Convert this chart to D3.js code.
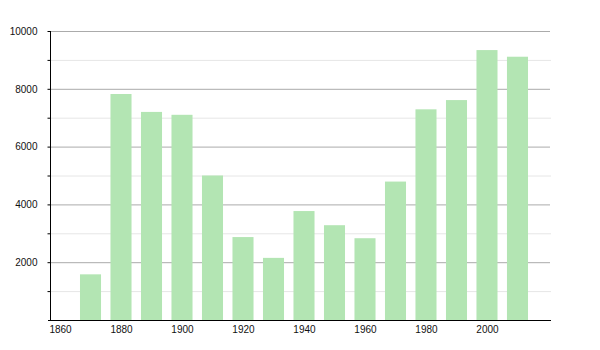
<!DOCTYPE html>
<html><head><meta charset="utf-8">
<script src="https://cdn.jsdelivr.net/npm/d3@7"></script>
<style>body{margin:0;background:#fff}svg text{font-family:"Liberation Sans",Arial,sans-serif;font-size:10px;fill:#111}</style>
</head><body><svg id="c" width="600" height="350"></svg>
<script>
const years = [1870,1880,1890,1900,1910,1920,1930,1940,1950,1960,1970,1980,1990,2000,2010];
const population = [1580,7820,7200,7100,5000,2870,2150,3770,3280,2830,4790,7290,7610,9340,9110];
const yTicks = [2000,4000,6000,8000,10000];
const yMinor = [1000,3000,5000,7000,9000];
const xTicks = [1860,1880,1900,1920,1940,1960,1980,2000];

const svg = d3.select("#c");
const x = d3.scaleLinear().domain([1856.72, 2020.66]).range([50, 550]);
const y = d3.scaleLinear().domain([0, 10000]).range([320, 31]);
const barHalf = 3.45;

// minor gridlines
svg.append("g").selectAll("line").data(yMinor).join("line")
  .attr("x1", 50).attr("x2", 551).attr("y1", d => y(d) + 0.5).attr("y2", d => y(d) + 0.5)
  .attr("stroke", "#e6e6e6");
// major gridlines
svg.append("g").selectAll("line").data(yTicks).join("line")
  .attr("x1", 50).attr("x2", 550).attr("y1", d => y(d) + 0.5).attr("y2", d => y(d) + 0.5)
  .attr("stroke", "#ababab");

// bars
svg.append("g").selectAll("rect").data(years).join("rect")
  .attr("x", d => x(d - barHalf)).attr("width", d => x(d + barHalf) - x(d - barHalf))
  .attr("y", (d, i) => y(population[i])).attr("height", (d, i) => y(0) - y(population[i]))
  .attr("fill", "#b3e5b3");

// y axis
const ya = svg.append("g").attr("transform", "translate(50.5,0)")
  .call(d3.axisLeft(y).tickValues(yTicks.concat(yMinor)).tickSize(3).tickPadding(10)
    .tickFormat(d => yTicks.includes(d) ? d : ""));
ya.select(".domain").attr("stroke", "#000").attr("d", "M0,31V320.5");
ya.selectAll(".tick line").attr("stroke", "#000");
ya.selectAll("text").style("font-family", "Liberation Sans, Arial, sans-serif").style("font-size", "10px").attr("fill", "#111");

// x axis
const xa = svg.append("g").attr("transform", "translate(0,320.5)")
  .call(d3.axisBottom(x).tickValues(xTicks).tickSize(0).tickPadding(5).tickFormat(d3.format("d")));
xa.select(".domain").attr("stroke", "#000").attr("d", "M48,0H551");
xa.selectAll("text").style("font-family", "Liberation Sans, Arial, sans-serif").style("font-size", "10px").attr("fill", "#111");
</script></body></html>
